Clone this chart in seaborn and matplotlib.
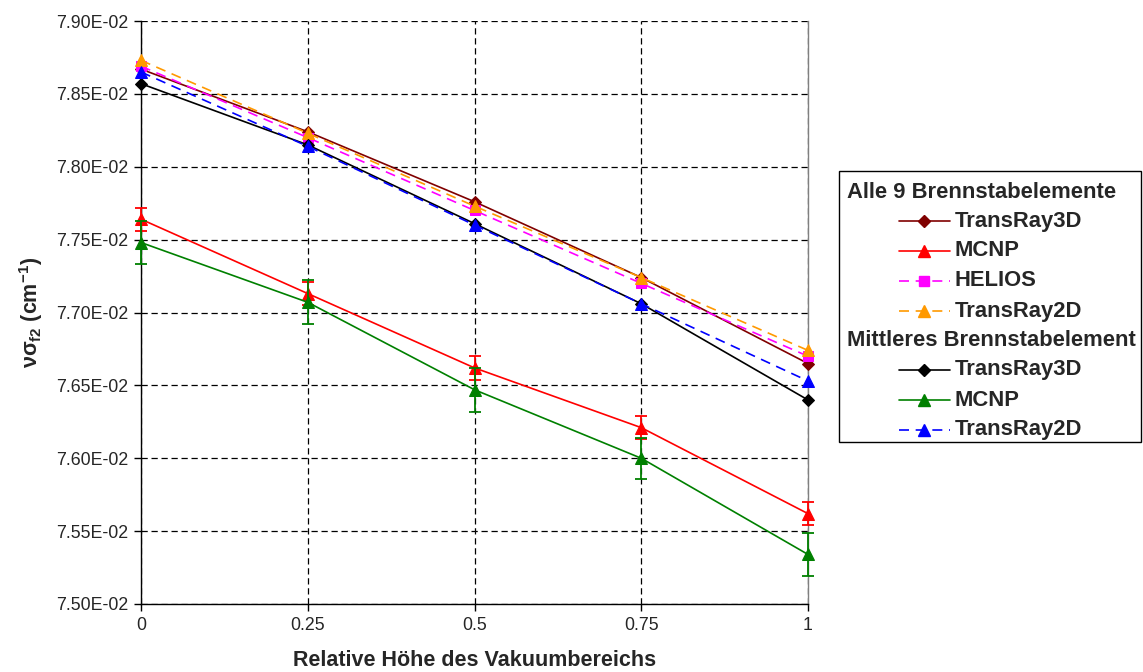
#!/usr/bin/env python3
# -*- coding: utf-8 -*-
"""nu*sigma_f2 over the relative height of the vacuum region (TransRay / MCNP / HELIOS)."""

import matplotlib
matplotlib.use("Agg")

import matplotlib.pyplot as plt
import matplotlib.ticker as mticker
import numpy as np
import pandas as pd
import seaborn as sns
from matplotlib.lines import Line2D
from matplotlib.patches import Rectangle

# x axis: relative height of the vacuum region
HEIGHTS = [0.0, 0.25, 0.5, 0.75, 1.0]

# values in units of 1e-2 cm^-1
# all 9 fuel rod elements
ALL_TRANSRAY3D = [7.867, 7.824, 7.776, 7.724, 7.665]
ALL_MCNP = [7.764, 7.713, 7.662, 7.621, 7.562]
ALL_MCNP_ERR = [0.008, 0.008, 0.008, 0.008, 0.008]
ALL_HELIOS = [7.869, 7.820, 7.770, 7.720, 7.670]
ALL_TRANSRAY2D = [7.873, 7.823, 7.773, 7.724, 7.674]

# middle fuel rod element
MID_TRANSRAY3D = [7.857, 7.815, 7.761, 7.706, 7.640]
MID_MCNP = [7.748, 7.707, 7.647, 7.600, 7.534]
MID_MCNP_ERR = [0.015, 0.015, 0.015, 0.014, 0.015]
MID_TRANSRAY2D = [7.865, 7.814, 7.760, 7.706, 7.653]

GROUP_ALL = "Alle 9 Brennstabelemente"
GROUP_MID = "Mittleres Brennstabelement"

DASH = (0, (6, 4))

# (group, label, values, errors, color, linestyle, marker)
SERIES = [
    (GROUP_ALL, "TransRay3D", ALL_TRANSRAY3D, None, "#800000", "-", "D"),
    (GROUP_ALL, "MCNP", ALL_MCNP, ALL_MCNP_ERR, "#FF0000", "-", "^"),
    (GROUP_ALL, "HELIOS", ALL_HELIOS, None, "#FF00FF", DASH, "s"),
    (GROUP_ALL, "TransRay2D", ALL_TRANSRAY2D, None, "#FF9900", DASH, "^"),
    (GROUP_MID, "TransRay3D", MID_TRANSRAY3D, None, "#000000", "-", "D"),
    (GROUP_MID, "MCNP", MID_MCNP, MID_MCNP_ERR, "#008000", "-", "^"),
    (GROUP_MID, "TransRay2D", MID_TRANSRAY2D, None, "#0000FF", DASH, "^"),
]

MARKER_SIZE = {"D": 6.0, "^": 8.0, "s": 7.5}


def main() -> None:
    sns.set_style("white")
    plt.rcParams["font.family"] = ["Liberation Sans", "DejaVu Sans"]
    plt.rcParams["mathtext.fontset"] = "custom"
    plt.rcParams["mathtext.rm"] = "Liberation Sans"
    plt.rcParams["mathtext.bf"] = "Liberation Sans:bold"
    plt.rcParams["mathtext.it"] = "Liberation Sans:italic"

    fig = plt.figure(figsize=(11.43, 6.72), dpi=100)
    ax = fig.add_axes([141 / 1143, 68 / 672, 667 / 1143, 583 / 672])

    for group, label, vals, err, color, ls, marker in SERIES:
        df = pd.DataFrame({"h": HEIGHTS, "v": np.array(vals) * 1e-2})
        sns.lineplot(
            data=df, x="h", y="v", ax=ax, color=color, linestyle=ls,
            linewidth=1.2, marker=marker, markersize=MARKER_SIZE[marker],
            markeredgecolor=color, markerfacecolor=color, legend=False,
            clip_on=False, zorder=3,
        )
        if err is not None:
            eb = ax.errorbar(HEIGHTS, np.array(vals) * 1e-2, yerr=np.array(err) * 1e-2,
                             fmt="none", ecolor=color, elinewidth=1.3, capsize=4,
                             capthick=1.3, zorder=3)
            for part in eb.lines:
                for artist in (part if isinstance(part, tuple) else [part]):
                    if artist is not None:
                        artist.set_clip_on(False)

    ax.set_xlim(0, 1)
    ax.set_ylim(0.075, 0.079)
    ax.set_xticks(HEIGHTS)
    ax.set_xticklabels(["0", "0.25", "0.5", "0.75", "1"])
    ax.yaxis.set_major_locator(mticker.MultipleLocator(0.0005))
    ax.yaxis.set_major_formatter(mticker.FuncFormatter(lambda v, _: f"{v:.2E}"))

    ax.grid(True, color="black", linestyle=(0, (5, 3)), linewidth=0.9)
    ax.set_axisbelow(True)
    ax.spines["top"].set_visible(False)
    ax.spines["right"].set_color("#808080")
    ax.spines["left"].set_color("black")
    ax.spines["bottom"].set_color("black")
    for side in ("left", "right", "bottom"):
        ax.spines[side].set_linewidth(1.0)
    ax.tick_params(axis="both", direction="out", length=5, width=1, color="black",
                   labelsize=12.8, pad=4, left=True, bottom=True)

    ax.set_xlabel("Relative Höhe des Vakuumbereichs", fontsize=15.5,
                  fontweight="bold", labelpad=12)
    ax.set_ylabel(r"$\mathbf{\nu\sigma_{f2}}$ $\mathbf{(cm^{-1})}$", fontsize=15.5,
                  fontweight="bold", labelpad=8)

    # legend box with indented entries below two group headings
    W, H = 1143, 672
    fig.add_artist(Rectangle((839 / W, 1 - 442 / H), 302 / W, 271 / H,
                             transform=fig.transFigure, fill=False,
                             edgecolor="black", linewidth=1.0))
    row_y = 192
    current = None
    for group, label, vals, err, color, ls, marker in SERIES:
        if group != current:
            fig.text(847 / W, 1 - row_y / H, group, fontsize=15.8, fontweight="bold",
                     va="center", ha="left")
            current = group
            row_y += 29
        fig.add_artist(Line2D([899 / W, 950 / W], [1 - row_y / H] * 2,
                              transform=fig.transFigure, color=color, linestyle=ls,
                              linewidth=1.2))
        fig.add_artist(Line2D([924 / W], [1 - row_y / H], transform=fig.transFigure,
                              marker=marker, markersize=MARKER_SIZE[marker],
                              color=color, linestyle="none"))
        fig.text(955 / W, 1 - row_y / H, label, fontsize=15.8, fontweight="bold",
                 va="center", ha="left")
        row_y += 30

    fig.savefig("out.png", dpi=100)


if __name__ == "__main__":
    main()
